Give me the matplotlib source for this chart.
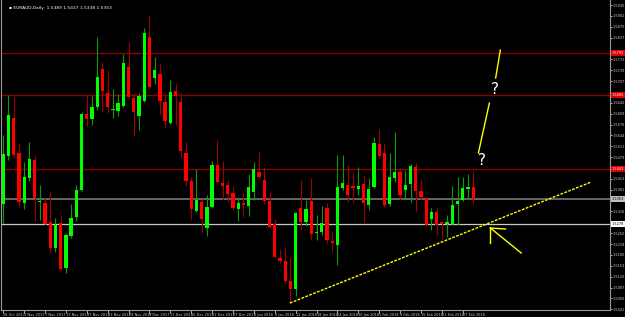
import numpy as np
import matplotlib.pyplot as plt

# EURAUD daily bars, oldest first
opens = [1.5338, 1.5482, 1.5596, 1.5491, 1.5341, 1.5416, 1.5470, 1.5344, 1.5341, 1.5284,
         1.5206, 1.5281, 1.5146, 1.5242, 1.5299, 1.5380, 1.5608, 1.5593, 1.5629, 1.5743,
         1.5671, 1.5620, 1.5617, 1.5632, 1.5749, 1.5656, 1.5602, 1.5647, 1.5839, 1.5716,
         1.5728, 1.5644, 1.5581, 1.5677, 1.5644, 1.5491, 1.5407, 1.5317, 1.5344, 1.5266,
         1.5329, 1.5455, 1.5401, 1.5395, 1.5371, 1.5323, 1.5341, 1.5332, 1.5374, 1.5434,
         1.5410, 1.5347, 1.5278, 1.5176, 1.5167, 1.5107, 1.5083, 1.5326, 1.5284, 1.5347,
         1.5251, 1.5254, 1.5326, 1.5227, 1.5215, 1.5386, 1.5395, 1.5392, 1.5383, 1.5398,
         1.5335, 1.5389, 1.5518, 1.5491, 1.5338, 1.5416, 1.5434, 1.5380, 1.5398, 1.5449,
         1.5377, 1.5356, 1.5293, 1.5314, 1.5284, 1.5278, 1.5278, 1.5338, 1.5350, 1.5383,
         1.5389]
highs = [1.5545, 1.5665, 1.5659, 1.5521, 1.5464, 1.5524, 1.5482, 1.5395, 1.5356, 1.5374,
         1.5296, 1.5302, 1.5251, 1.5338, 1.5395, 1.5614, 1.5665, 1.5662, 1.5839, 1.5764,
         1.5740, 1.5683, 1.5668, 1.5788, 1.5824, 1.5671, 1.5671, 1.5866, 1.5902, 1.5779,
         1.5758, 1.5665, 1.5710, 1.5701, 1.5671, 1.5524, 1.5419, 1.5443, 1.5353, 1.5365,
         1.5467, 1.5530, 1.5467, 1.5410, 1.5392, 1.5359, 1.5371, 1.5428, 1.5464, 1.5497,
         1.5449, 1.5374, 1.5293, 1.5203, 1.5209, 1.5176, 1.5314, 1.5410, 1.5350, 1.5416,
         1.5305, 1.5332, 1.5341, 1.5254, 1.5485, 1.5485, 1.5455, 1.5434, 1.5449, 1.5425,
         1.5416, 1.5539, 1.5563, 1.5521, 1.5491, 1.5554, 1.5446, 1.5440, 1.5458, 1.5461,
         1.5413, 1.5359, 1.5326, 1.5329, 1.5287, 1.5305, 1.5392, 1.5419, 1.5419, 1.5428,
         1.5437]
lows = [1.5281, 1.5470, 1.5476, 1.5329, 1.5323, 1.5407, 1.5287, 1.5290, 1.5275, 1.5191,
        1.5194, 1.5140, 1.5131, 1.5236, 1.5287, 1.5377, 1.5572, 1.5575, 1.5620, 1.5614,
        1.5611, 1.5596, 1.5602, 1.5629, 1.5653, 1.5542, 1.5560, 1.5644, 1.5686, 1.5698,
        1.5608, 1.5566, 1.5578, 1.5575, 1.5479, 1.5392, 1.5290, 1.5314, 1.5254, 1.5242,
        1.5326, 1.5401, 1.5350, 1.5344, 1.5320, 1.5287, 1.5299, 1.5302, 1.5350, 1.5416,
        1.5338, 1.5266, 1.5176, 1.5161, 1.5101, 1.5041, 1.5062, 1.5260, 1.5272, 1.5230,
        1.5230, 1.5245, 1.5221, 1.5194, 1.5155, 1.5380, 1.5344, 1.5341, 1.5365, 1.5281,
        1.5320, 1.5386, 1.5476, 1.5329, 1.5332, 1.5404, 1.5350, 1.5356, 1.5344, 1.5314,
        1.5350, 1.5272, 1.5260, 1.5245, 1.5230, 1.5239, 1.5275, 1.5275, 1.5347, 1.5353,
        1.5338]
closes = [1.5488, 1.5605, 1.5485, 1.5344, 1.5419, 1.5473, 1.5356, 1.5347, 1.5278, 1.5206,
          1.5275, 1.5143, 1.5245, 1.5296, 1.5380, 1.5608, 1.5593, 1.5629, 1.5719, 1.5677,
          1.5629, 1.5623, 1.5641, 1.5761, 1.5659, 1.5614, 1.5662, 1.5851, 1.5689, 1.5740,
          1.5647, 1.5587, 1.5674, 1.5662, 1.5497, 1.5407, 1.5323, 1.5350, 1.5293, 1.5329,
          1.5455, 1.5404, 1.5392, 1.5368, 1.5326, 1.5341, 1.5335, 1.5389, 1.5443, 1.5419,
          1.5347, 1.5269, 1.5179, 1.5167, 1.5107, 1.5083, 1.5311, 1.5284, 1.5323, 1.5248,
          1.5254, 1.5281, 1.5230, 1.5221, 1.5389, 1.5401, 1.5365, 1.5386, 1.5392, 1.5341,
          1.5383, 1.5521, 1.5482, 1.5335, 1.5419, 1.5434, 1.5365, 1.5395, 1.5452, 1.5377,
          1.5359, 1.5275, 1.5314, 1.5275, 1.5278, 1.5284, 1.5335, 1.5347, 1.5386, 1.5389,
          1.5353]

date_labels = ["26 Oct 2017", "1 Nov 2017", "7 Nov 2017", "13 Nov 2017", "17 Nov 2017",
               "23 Nov 2017", "29 Nov 2017", "5 Dec 2017", "11 Dec 2017", "15 Dec 2017",
               "21 Dec 2017", "27 Dec 2017", "2 Jan 2018", "8 Jan 2018", "12 Jan 2018",
               "18 Jan 2018", "24 Jan 2018", "30 Jan 2018", "5 Feb 2018", "9 Feb 2018",
               "15 Feb 2018", "21 Feb 2018", "27 Feb 2018"]

# horizontal levels drawn on the chart
red_levels = [1.5791, 1.5665, 1.5443]
bid_level = 1.5353
white_level = 1.5278

# hand drawn objects (bar index, price)
trend_x = [54.9, 112.6]
trend_y = [1.5041, 1.5404]
up1_x, up1_y = [91.0, 93.1], [1.5491, 1.5641]
up2_x, up2_y = [94.3, 95.2], [1.5716, 1.5800]
q_marks = [(91.6, 1.5470), (94.1, 1.5683)]
arrow_x, arrow_y = [99.2, 93.3], [1.5191, 1.5266]
head_v = ([93.3, 93.3], [1.5266, 1.5221])
head_h = ([93.3, 96.2], [1.5266, 1.5263])

BULL, BEAR = "#00ff00", "#ff0000"
BULL_W, BEAR_W = "#0a9a0a", "#a00000"
FS = 2.5

fig = plt.figure(figsize=(6.25, 3.17), dpi=100, facecolor="black")
ax = fig.add_axes([0.002, 0.022, 0.974, 0.978])
ax.set_facecolor("black")

x = np.arange(len(opens))
o = np.array(opens); h = np.array(highs); l = np.array(lows); c = np.array(closes)
up = c >= o

ax.vlines(x[up], l[up], h[up], color=BULL_W, lw=0.8, zorder=2)
ax.vlines(x[~up], l[~up], h[~up], color=BEAR_W, lw=0.8, zorder=2)
body = np.maximum(np.abs(c - o), 0.0003)
ax.bar(x, body, bottom=np.minimum(o, c), width=0.62,
       color=np.where(up, BULL, BEAR), linewidth=0, zorder=3)

for lv in red_levels:
    ax.axhline(lv, color="#8b0000", lw=1.0, zorder=1)
ax.axhline(bid_level, color="#6e6e6e", lw=1.3, zorder=1)
ax.axhline(white_level, color="#c8c8c8", lw=0.9, zorder=1)

ax.plot(trend_x, trend_y, color="#ffff00", lw=1.0, ls=(0, (2, 1)), zorder=4)
ax.plot(up1_x, up1_y, color="#ffff00", lw=1.0, zorder=4)
ax.plot(up2_x, up2_y, color="#ffff00", lw=1.0, zorder=4)
ax.plot(arrow_x, arrow_y, color="#ffff00", lw=1.0, zorder=4)
ax.plot(*head_v, color="#ffff00", lw=1.0, zorder=4)
ax.plot(*head_h, color="#ffff00", lw=1.0, zorder=4)
for qx, qy in q_marks:
    ax.text(qx, qy, "?", color="white", fontsize=11, ha="center", va="center", zorder=5)

ax.set_xlim(-0.38, 116.2)
ax.set_ylim(1.5020, 1.5950)

# axes styling, MT4 like
ax.spines["top"].set_visible(False)
for s in ["left", "right", "bottom"]:
    ax.spines[s].set_color("#9a9a9a")
    ax.spines[s].set_linewidth(0.8)

# price scale: drop plain ticks that sit under a highlighted level label
marked = red_levels + [bid_level, white_level]
yt = 1.5935 - 0.00326 * np.arange(29)
yt = [v for v in yt if min(abs(v - m) for m in marked) > 0.0016]
ax.yaxis.tick_right()
ax.set_yticks(yt)
ax.set_yticklabels([f"{v:.4f}" for v in yt])
ax.tick_params(axis="y", colors="#cfcfcf", labelsize=FS, length=1.5, width=0.6, pad=0.5)

ax.set_xticks(np.arange(0, 89, 4))
ax.set_xticklabels(date_labels, ha="left")
ax.tick_params(axis="x", colors="#cfcfcf", labelsize=FS, length=2, width=0.6, pad=0.5)

# highlighted price labels on the right scale
tr = ax.get_yaxis_transform()
for lv in red_levels:
    ax.text(1.003, lv, f"{lv:.4f}", transform=tr, fontsize=FS, color="white",
            va="center", ha="left", clip_on=False,
            bbox=dict(boxstyle="square,pad=0.3", fc="#e00000", ec="none"))
ax.text(1.003, bid_level, f"{bid_level:.4f}", transform=tr, fontsize=FS, color="black",
        va="center", ha="left", clip_on=False,
        bbox=dict(boxstyle="square,pad=0.3", fc="#c0c0c0", ec="none"))
ax.text(1.003, white_level, f"{white_level:.4f}", transform=tr, fontsize=FS, color="black",
        va="center", ha="left", clip_on=False,
        bbox=dict(boxstyle="square,pad=0.3", fc="white", ec="none"))

ax.text(0.012, 0.975, "\u25aa EURAUD,Daily  1.5389 1.5437 1.5338 1.5353", transform=ax.transAxes,
        color="white", fontsize=3.2, va="center", ha="left")

fig.savefig("out.png", dpi=100, facecolor="black")
